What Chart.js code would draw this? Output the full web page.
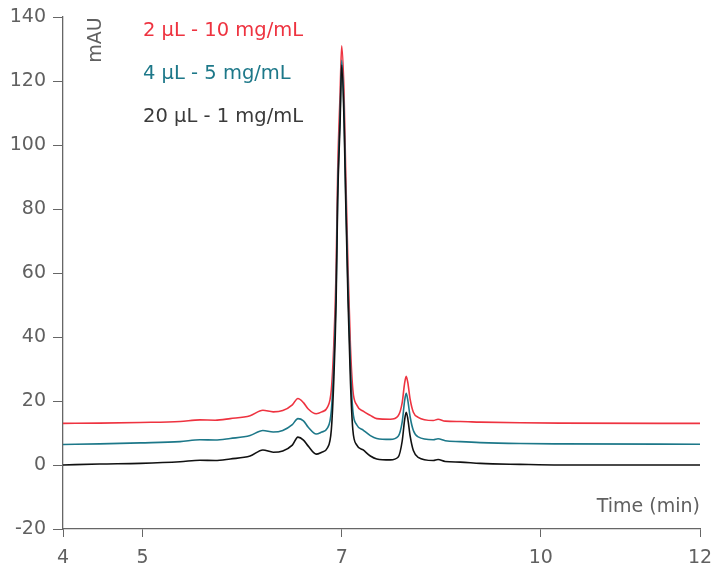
<!DOCTYPE html>
<html>
<head>
<meta charset="utf-8">
<script src="https://cdn.jsdelivr.net/npm/chart.js@4"></script>
<style>
    html, body { margin: 0; padding: 0; background: #fff; }
    #wrap { width: 714px; height: 567px; }
</style>
</head>
<body>
<div id="wrap"><canvas id="chart" width="714" height="567"></canvas></div>
<script>
// 数据
const times = [4.00, 4.46, 4.97, 5.47, 5.72, 5.91, 6.10, 6.35, 6.51, 6.64, 6.76, 6.88, 6.95, 7.02, 7.08, 7.18, 7.25, 7.32, 7.37, 7.40,
    7.43, 7.45, 7.48, 7.50, 7.53, 7.55, 7.58, 7.61, 7.64, 7.69, 7.77, 7.86, 7.94, 8.11, 8.21, 8.26, 8.29, 8.31, 8.33, 8.36,
    8.40, 8.46, 8.65, 8.71, 8.80, 8.99, 9.24, 9.74, 10.24, 12.00];

const black = [0.0, 0.3, 0.5, 1.0, 1.5, 1.4, 1.9, 2.8, 4.7, 4.0, 4.4, 6.2, 8.7, 7.8, 5.9, 3.4, 4.0, 5.3, 11, 26,
    51, 83, 107, 125, 107, 83, 51, 26, 11, 6.2, 4.7, 2.8, 1.9, 1.6, 2.5, 7.5, 14, 16.5, 14.5, 9,
    4.5, 2.4, 1.4, 1.7, 1.1, 0.9, 0.5, 0.2, 0.0, 0.0];

const teal = [6.4, 6.6, 6.9, 7.3, 7.9, 7.8, 8.3, 9.2, 10.8, 10.3, 10.8, 12.6, 14.5, 13.8, 11.8, 9.7, 10.3, 11.5, 17, 31,
    55, 86, 110, 126.5, 110, 86, 55, 31, 17, 12.5, 10.9, 9.2, 8.3, 8.0, 9.0, 13.5, 20, 22.4, 20.3, 15,
    10.8, 8.8, 7.9, 8.2, 7.6, 7.3, 7.0, 6.7, 6.6, 6.5];

const red = [13.0, 13.1, 13.3, 13.6, 14.1, 14.0, 14.5, 15.4, 17.1, 16.6, 17.0, 18.8, 20.8, 19.5, 17.5, 16.0, 16.6, 18.0, 23.5, 37,
    61, 92, 116, 131, 116, 92, 61, 37, 23.5, 18.7, 16.8, 15.5, 14.5, 14.3, 15.4, 19.5, 25.5, 27.7, 25.8, 20.5,
    16.5, 14.9, 13.9, 14.3, 13.7, 13.6, 13.4, 13.2, 13.1, 13.0];

const seriesNames = ['2 µL - 10 mg/mL', '4 µL - 5 mg/mL', '20 µL - 1 mg/mL'];
const seriesColors = ['#ee3340', '#1d7889', '#111111'];
const legendColors = ['#ee3340', '#1d7889', '#3a3a3a'];

// x轴刻度位置和显示文字
const xTickValues = [4, 5, 7.5, 10, 12];
const xTickLabels = ['4', '5', '7', '10', '12'];
const yTickValues = [-20, 0, 20, 40, 60, 80, 100, 120, 140];

const axisColor = '#666666';
const textColor = '#606060';
const fontFamily = '"DejaVu Sans", sans-serif';

function toPoints(vals) {
    return times.map((t, i) => ({ x: t, y: vals[i] }));
}

// 标注文字插件
const labelsPlugin = {
    id: 'labels',
    afterDraw(chart) {
        const ctx = chart.ctx;
        const area = chart.chartArea;
        ctx.save();
        ctx.font = '19.5px ' + fontFamily;
        ctx.textBaseline = 'middle';
        ctx.textAlign = 'left';
        seriesNames.forEach((name, i) => {
            ctx.fillStyle = legendColors[i];
            ctx.fillText(name, 143, 31 + i * 43);
        });
        ctx.fillStyle = textColor;
        ctx.font = '19px ' + fontFamily;
        ctx.textAlign = 'right';
        ctx.fillText('Time (min)', area.right, 507);
        ctx.translate(96, 40);
        ctx.rotate(-Math.PI / 2);
        ctx.textAlign = 'center';
        ctx.fillText('mAU', 0, 0);
        ctx.restore();
    }
};

const datasets = [red, teal, black].map((vals, i) => ({
    label: seriesNames[i],
    data: toPoints(vals),
    borderColor: seriesColors[i],
    borderWidth: 1.6,
    pointRadius: 0,
    fill: false,
    cubicInterpolationMode: 'monotone',
    order: 3 - i
}));

new Chart(document.getElementById('chart'), {
    type: 'line',
    data: { datasets: datasets },
    options: {
        responsive: false,
        animation: false,
        layout: { padding: { top: 17, right: 14, left: 0, bottom: 0 } },
        plugins: {
            legend: { display: false },
            tooltip: { enabled: false }
        },
        scales: {
            x: {
                type: 'linear',
                min: 4,
                max: 12,
                afterBuildTicks: axis => { axis.ticks = xTickValues.map(v => ({ value: v })); },
                afterFit: axis => {
                    axis.height = 38;
                    axis.paddingLeft = 0;
                    axis.paddingRight = 0;
                },
                grid: { drawOnChartArea: false, color: axisColor, tickLength: 8 },
                border: { color: axisColor, width: 1.3 },
                ticks: {
                    color: textColor,
                    font: { size: 19, family: fontFamily },
                    padding: 10,
                    maxRotation: 0,
                    autoSkip: false,
                    callback: (v) => xTickLabels[xTickValues.indexOf(v)]
                }
            },
            y: {
                min: -20,
                max: 140,
                afterBuildTicks: axis => { axis.ticks = yTickValues.map(v => ({ value: v })); },
                afterFit: axis => {
                    axis.width = 63;
                    axis.paddingTop = 0;
                    axis.paddingBottom = 0;
                },
                grid: { drawOnChartArea: false, color: axisColor, tickLength: 10 },
                border: { color: axisColor, width: 1.3 },
                ticks: {
                    color: textColor,
                    font: { size: 19, family: fontFamily },
                    padding: 7,
                    autoSkip: false
                }
            }
        }
    },
    plugins: [labelsPlugin]
});
</script>
</body>
</html>
